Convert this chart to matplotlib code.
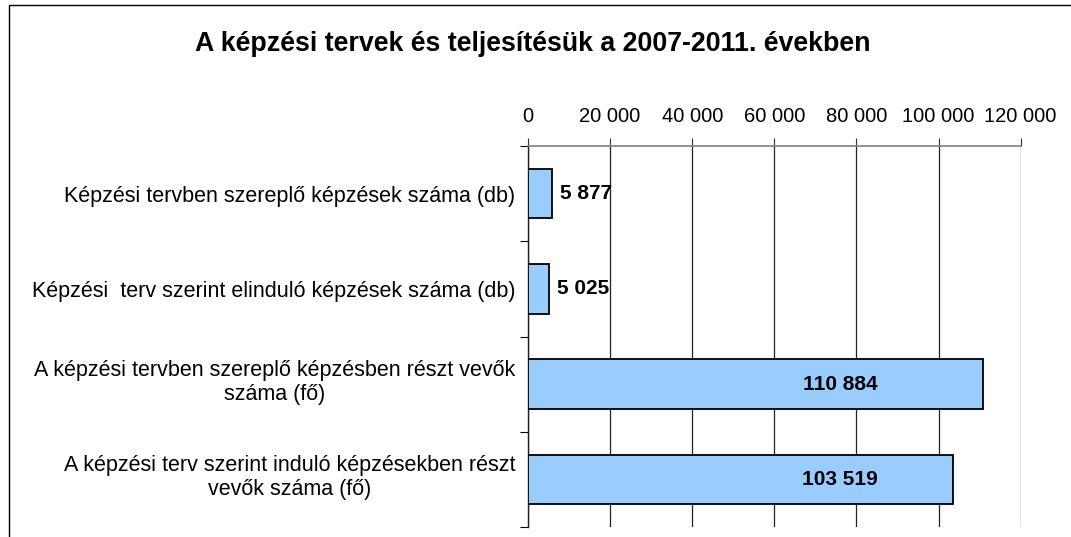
import matplotlib.pyplot as plt
from matplotlib.patches import Rectangle
from matplotlib.ticker import FuncFormatter
from matplotlib.transforms import ScaledTranslation

kategoriak = [
    "Képzési tervben szereplő képzések száma (db)",
    "Képzési  terv szerint elinduló képzések száma (db)",
    "A képzési tervben szereplő képzésben részt vevők\nszáma (fő)",
    "A képzési terv szerint induló képzésekben részt\nvevők száma (fő)",
]
ertekek = [5877, 5025, 110884, 103519]
x_tickek = [0, 20000, 40000, 60000, 80000, 100000, 120000]


def ezres(v, pos=None):
    return f"{int(v):,}".replace(",", " ")


plt.rcParams['font.family'] = ['Liberation Sans', 'DejaVu Sans']

fig = plt.figure(figsize=(10.71, 5.37), dpi=100)
ax = fig.add_axes([0.493, 0.0186, 0.46, 0.7095])

pozicio = list(range(len(kategoriak)))
ax.barh(pozicio, ertekek, height=0.52, color='#99CCFF', edgecolor='black', linewidth=1.3, zorder=3)
ax.set_ylim(len(kategoriak) - 0.5, -0.5)
ax.set_xlim(0, x_tickek[-1])

ax.xaxis.tick_top()
ax.set_xticks(x_tickek)
ax.xaxis.set_major_formatter(FuncFormatter(ezres))
ax.tick_params(axis='x', direction='out', length=6, width=0.8, pad=8.5, labelsize=14.5, color='#333333')
ax.grid(axis='x', color='#222222', linewidth=0.9, zorder=0)

ax.set_yticks(pozicio)
ax.set_yticklabels(kategoriak, fontsize=15.5, ha='right', multialignment='center', linespacing=1.18)
ax.tick_params(axis='y', length=0, pad=9)
ax.set_yticks([p - 0.5 for p in pozicio] + [len(kategoriak) - 0.5], minor=True)
ax.tick_params(axis='y', which='minor', direction='out', length=6, width=0.8)

# a kétsoros feliratok kicsit feljebb vannak
for lbl in ax.get_yticklabels():
    if "\n" in lbl.get_text():
        lbl.set_transform(lbl.get_transform() + ScaledTranslation(0, 4 / 72, fig.dpi_scale_trans))

for s in ['right', 'bottom']:
    ax.spines[s].set_visible(False)
ax.spines['top'].set_color('#808080')
ax.spines['top'].set_linewidth(1.2)
ax.spines['left'].set_color('#222222')
ax.spines['left'].set_linewidth(1.0)

for p, v in zip(pozicio, ertekek):
    if v > 0.3 * x_tickek[-1]:
        ax.text(0.633 * x_tickek[-1], p, ezres(v), ha='center', va='center',
                fontsize=15, fontweight='bold', zorder=4)
    else:
        ax.annotate(ezres(v), (v, p), xytext=(6, 0), textcoords='offset points',
                    ha='left', va='center', fontsize=15, fontweight='bold', zorder=4)

fig.text(0.497, 0.918, "A képzési tervek és teljesítésük a 2007-2011. években",
         ha='center', va='center', fontsize=19.3, fontweight='bold')

fig.patches.append(Rectangle((9 / 1071, -0.1), 1.2, 1.1 - 5 / 537, transform=fig.transFigure,
                             fill=False, edgecolor='black', linewidth=1.0))

fig.savefig('out.png', dpi=100)
